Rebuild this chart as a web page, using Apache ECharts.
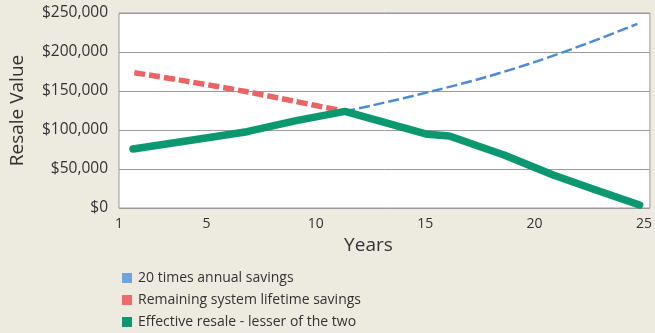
<!DOCTYPE html>
<html>
<head>
<meta charset="utf-8">
<script src="https://cdn.jsdelivr.net/npm/echarts@6/dist/echarts.min.js"></script>
<style>
html,body{margin:0;padding:0;background:#EDEADF;}
#c{width:655px;height:333px;}
</style>
</head>
<body>
<div id="c"></div>
<script>
// Data
const xTickLabels = [1, 5, 10, 15, 20, 25];

const blueYears  = [11.3, 12.5, 15.5, 17.8, 20.1, 22.4, 24.7];
const blueValues = [124000, 131000, 151000, 168000, 188000, 211000, 236000];

const redYears  = [1.7, 4, 6.85, 9, 11.3];
const redValues = [173500, 163000, 149000, 137000, 124000];

const greenYears  = [1.64, 3.84, 6.85, 9.1, 11.33, 15.1, 16.1, 18.6, 20.85, 22.8, 24.8];
const greenValues = [75600, 85000, 97800, 112000, 123800, 94500, 92300, 68000, 42300, 23000, 3800];

const seriesNames = ['20 times annual savings', 'Remaining system lifetime savings', 'Effective resale - lesser of the two'];

function pairs(xs, ys){ return xs.map((x,i)=>[x, ys[i]]); }

const FONT = 'Open Sans';
const chart = echarts.init(document.getElementById('c'));
chart.setOption({
  backgroundColor: '#EDEADF',
  animation: false,
  textStyle: {fontFamily: FONT, color: '#333'},
  grid: {left: 119, top: 13, right: 1, bottom: 125, show: true, backgroundColor: '#fff', borderColor: '#9a9a9a', borderWidth: 1},
  legend: {
    orient: 'vertical', left: 117, top: 264, height: 90, padding: 5,
    itemWidth: 10, itemHeight: 10, itemGap: 4,
    icon: 'rect',
    textStyle: {fontFamily: FONT, fontSize: 14, color: '#333', lineHeight: 18, padding: [0,0,0,1]},
    data: seriesNames.map((n,i)=>({name:n, itemStyle:{color:['#6FA3DE','#EE6B6B','#0B9770'][i]}}))
  },
  xAxis: {
    type: 'value', min: 1, max: 25.27,
    name: 'Years', nameLocation: 'middle', nameGap: 25,
    nameTextStyle: {fontSize: 19, color: '#333', fontFamily: FONT, padding:[0,32,0,0]},
    axisLine: {show: false}, axisTick: {show: false}, splitLine: {show: false},
    axisLabel: {customValues: xTickLabels, fontSize: 14, color: '#333', margin: 9}
  },
  yAxis: {
    type: 'value', min: 0, max: 250000, interval: 50000,
    name: 'Resale Value', nameLocation: 'middle', nameGap: 92, nameRotate: 90,
    nameTextStyle: {fontSize: 19, color: '#333', fontFamily: FONT},
    axisLine: {show: false}, axisTick: {show: false},
    splitLine: {lineStyle: {color: '#9a9a9a', width: 1}},
    axisLabel: {fontSize: 15.5, color: '#333', margin: 11,
      formatter: v => '$' + v.toLocaleString('en-US')}
  },
  series: [
    {name: seriesNames[0], type: 'line', showSymbol: false, smooth: 0.3, z: 2,
     data: pairs(blueYears, blueValues), itemStyle: {color: '#6FA3DE'},
     lineStyle: {color: '#4A8BD3', width: 2.5, type: [11, 4]}},
    {name: seriesNames[1], type: 'line', showSymbol: false, smooth: 0.3, z: 3,
     data: pairs(redYears, redValues), itemStyle: {color: '#EE6B6B'},
     lineStyle: {color: '#EB6465', width: 5.5, type: [11, 4]}},
    {name: seriesNames[2], type: 'line', showSymbol: false, smooth: false, z: 4,
     data: pairs(greenYears, greenValues), itemStyle: {color: '#0B9770'},
     lineStyle: {color: '#0B9770', width: 7.5, join: 'round', cap: 'round'}}
  ]
});
</script>
</body>
</html>
